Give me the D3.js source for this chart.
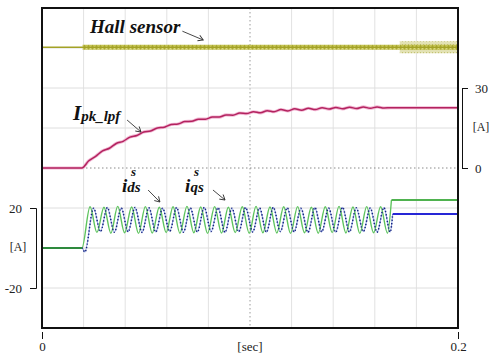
<!DOCTYPE html>
<html>
<head>
<meta charset="utf-8">
<script src="https://cdn.jsdelivr.net/npm/d3@7"></script>
<style>
  body { margin: 0; background: #fff; }
  svg { display: block; font-family: "Liberation Serif", "Times New Roman", serif; }
</style>
</head>
<body>
<svg id="chart" width="491" height="353"></svg>
<script>
// time is in ms, currents in A

// hall sensor: segment i runs hallT[i] -> hallT[i+1], band half width hallHalf[i]
const hallT = [0, 19.5, 172, 200];
const hallHalf = [0, 0.032, 0.075];
const hallLevel = 0.51;

// peak current after low pass filter
const ipkT = [0, 19.2, 22.5, 25.8, 29.1, 32.4, 35.7, 39.0, 42.3, 45.6, 48.9, 52.2, 55.5, 58.8, 62.1, 65.4,
  68.7, 72.0, 75.3, 78.6, 81.9, 85.2, 88.5, 91.8, 95.1, 98.4, 101.7, 105.0, 108.3, 111.6, 114.9, 118.2,
  121.5, 124.8, 128.1, 131.4, 134.7, 138.0, 141.3, 144.6, 147.9, 151.2, 154.5, 157.8, 161.1, 164.4, 167.7, 200];
const ipkA = [0, 0, 2.7, 4.4, 6.4, 7.4, 9.2, 10.0, 11.6, 12.2, 13.5, 13.9, 15.0, 15.3, 16.3, 16.5,
  17.4, 17.5, 18.3, 18.3, 19.1, 19.1, 19.9, 19.8, 20.6, 20.4, 21.1, 20.7, 21.5, 21.1, 21.9, 21.4,
  22.2, 21.7, 22.4, 21.9, 22.6, 22.1, 22.7, 22.2, 22.8, 22.3, 22.9, 22.4, 22.9, 22.5, 22.6, 22.6];

// i_ds (green): peaks and troughs
const idsT = [0, 19.2, 23.1, 26.4, 29.8, 33.1, 36.4, 39.7, 43.1, 46.4, 49.7, 53.0, 56.4, 59.7, 63.0, 66.3,
  69.7, 73.0, 76.3, 79.6, 83.0, 86.3, 89.6, 92.9, 96.3, 99.6, 102.9, 106.2, 109.6, 112.9, 116.2, 119.5,
  122.9, 126.2, 129.5, 132.8, 136.2, 139.5, 142.8, 146.1, 149.5, 152.8, 156.1, 159.4, 162.8, 166.1, 168.0, 200];
const idsA = [0, 0, 20.6, 7.8, 20.4, 7.4, 20.8, 7.6, 20.5, 7.3, 20.7, 7.5, 20.4, 7.7, 20.6, 7.4,
  20.8, 7.6, 20.5, 7.3, 20.7, 7.5, 20.4, 7.7, 20.6, 7.4, 20.8, 7.6, 20.5, 7.5, 20.6, 7.3,
  20.7, 7.6, 20.4, 7.4, 20.6, 7.7, 20.8, 7.5, 20.5, 7.3, 20.7, 7.6, 20.6, 7.4, 24.0, 24.0];

// i_qs (blue)
const iqsT = [0, 19.2, 20.6, 24.8, 28.1, 31.4, 34.8, 38.1, 41.4, 44.7, 48.1, 51.4, 54.7, 58.0, 61.4, 64.7,
  68.0, 71.3, 74.7, 78.0, 81.3, 84.6, 88.0, 91.3, 94.6, 97.9, 101.3, 104.6, 107.9, 111.2, 114.6, 117.9,
  121.2, 124.5, 127.9, 131.2, 134.5, 137.8, 141.2, 144.5, 147.8, 151.1, 154.5, 157.8, 161.1, 164.4, 167.4, 168.6, 200];
const iqsA = [0, 0, -2.0, 19.9, 8.2, 20.2, 7.9, 20.0, 8.1, 20.3, 7.8, 20.1, 8.0, 19.9, 8.3, 20.2,
  7.9, 20.0, 8.0, 20.3, 8.2, 20.1, 7.8, 19.9, 8.1, 20.2, 8.0, 20.0, 7.9, 20.3, 8.2, 20.1,
  8.0, 19.9, 7.8, 20.2, 8.1, 20.0, 7.9, 20.3, 8.0, 20.1, 8.2, 20.0, 7.9, 20.2, 8.0, 17.0, 17.0];

const xTicks = [0, 200];
const xTickLabels = ["0", "0.2"];
const pkTicks = [0, 30];
const dqTicks = [-20, 20];

const SERIF = "'Liberation Serif', 'Times New Roman', serif";
const zip = (t, v) => t.map((d, i) => [d, v[i]]);

const svg = d3.select("#chart");
const margin = {top: 8, left: 42}
const width = 416, height = 320;

const x = d3.scaleLinear().domain([0, 200]).range([margin.left, margin.left + width]);
const yTop = d3.scaleLinear().domain([0, 1]).range([88, 8]);
const yPk = d3.scaleLinear().domain([0, 30]).range([168, 88]);
const yDq = d3.scaleLinear().domain([-20, 20]).range([288, 208]);
const yRow = d3.scaleLinear().domain([0, 8]).range([margin.top + height, margin.top]);

const defs = svg.append("defs");
defs.append("clipPath").attr("id", "plotClip")
  .append("rect").attr("x", margin.left).attr("y", margin.top).attr("width", width).attr("height", height);

// noisy look of the hall trace
const pat1 = defs.append("pattern").attr("id", "hallNoise").attr("patternUnits", "userSpaceOnUse")
  .attr("width", 4).attr("height", 5);
pat1.append("rect").attr("width", 4).attr("height", 5).attr("fill", "#c4c350");
pat1.append("rect").attr("x", 0).attr("width", 1).attr("height", 5).attr("fill", "#a9a836");
pat1.append("rect").attr("x", 2).attr("y", 1).attr("width", 1).attr("height", 3).attr("fill", "#d9d884");
const pat2 = defs.append("pattern").attr("id", "hallWide").attr("patternUnits", "userSpaceOnUse")
  .attr("width", 3).attr("height", 4);
pat2.append("rect").attr("width", 3).attr("height", 4).attr("fill", "#e3e2b4");
pat2.append("rect").attr("x", 0).attr("width", 1).attr("height", 2).attr("fill", "#c3c274");

const arrow = defs.append("marker").attr("id", "arr").attr("markerUnits", "userSpaceOnUse")
  .attr("viewBox", "-6 -4 7 8").attr("refX", 0).attr("refY", 0)
  .attr("markerWidth", 7).attr("markerHeight", 8).attr("orient", "auto");
arrow.append("path").attr("d", "M-5,-3L0,0L-5,3").attr("fill", "none").attr("stroke", "#333").attr("stroke-width", 0.9);

// grid
const grid = svg.append("g");
x.ticks(10).filter(t => t > 0 && t < 200).forEach(t => {
  grid.append("line").attr("x1", x(t)).attr("x2", x(t)).attr("y1", margin.top).attr("y2", margin.top + height)
    .attr("stroke", t === 100 ? "#9a9a9a" : "#e2e2e2")
    .attr("stroke-width", 1)
    .attr("stroke-dasharray", t === 100 ? "1.5,2.5" : null);
});
yRow.ticks(8).filter(t => t > 0 && t < 8).forEach(t => {
  grid.append("line").attr("x1", margin.left).attr("x2", margin.left + width).attr("y1", yRow(t)).attr("y2", yRow(t))
    .attr("stroke", t === 4 ? "#8a8a8a" : "#dedede")
    .attr("stroke-width", 1)
    .attr("stroke-dasharray", t === 4 ? "1.5,2.5" : null);
});

const plot = svg.append("g").attr("clip-path", "url(#plotClip)");

// Hall sensor
const hallArea = d3.area().x(d => x(d[0])).y0(d => yTop(hallLevel - d[1])).y1(d => yTop(hallLevel + d[1]));
for (let i = 0; i < hallHalf.length; i++) {
  if (hallHalf[i] === 0) continue;
  plot.append("path").datum([[hallT[i], hallHalf[i]], [hallT[i + 1], hallHalf[i]]])
    .attr("fill", i === 1 ? "url(#hallNoise)" : "url(#hallWide)")
    .attr("d", hallArea);
}
plot.append("path").datum([[hallT[2], hallHalf[1]], [hallT[3], hallHalf[1]]])
  .attr("fill", "url(#hallNoise)").attr("d", hallArea);
plot.append("path").datum(hallT)
  .attr("fill", "none").attr("stroke", "#a3a226").attr("stroke-width", 1.6)
  .attr("d", d3.line().x(d => x(d)).y(() => yTop(hallLevel)));

// I_pk_lpf
const ipkLine = d3.line().x(d => x(d[0])).y(d => yPk(d[1])).curve(d3.curveMonotoneX);
plot.append("path").datum(zip(ipkT, ipkA))
  .attr("fill", "none").attr("stroke", "#f2b8d4").attr("stroke-width", 3.2).attr("d", ipkLine);
plot.append("path").datum(zip(ipkT, ipkA))
  .attr("fill", "none").attr("stroke", "#b3235f").attr("stroke-width", 1.5).attr("d", ipkLine);

// i_ds, i_qs
const dqLine = d3.line().x(d => x(d[0])).y(d => yDq(d[1])).curve(d3.curveMonotoneX);
const ids = zip(idsT, idsA), iqs = zip(iqsT, iqsA);
plot.append("path").datum(iqs.filter(d => d[0] <= 168.6))
  .attr("fill", "none").attr("stroke", "#93a6e6").attr("stroke-width", 1.1).attr("d", dqLine);
plot.append("path").datum(ids.filter(d => d[0] <= 168.0))
  .attr("fill", "none").attr("stroke", "#5ec45e").attr("stroke-width", 1.4).attr("d", dqLine);
plot.append("path").datum(iqs.filter(d => d[0] <= 168.6))
  .attr("fill", "none").attr("stroke", "#16247e").attr("stroke-width", 1.5)
  .attr("stroke-dasharray", "1.3,2").attr("d", dqLine);
plot.append("path").datum(ids.filter(d => d[0] >= 168.0))
  .attr("fill", "none").attr("stroke", "#4fb24f").attr("stroke-width", 2).attr("d", dqLine);
plot.append("path").datum(iqs.filter(d => d[0] >= 168.6))
  .attr("fill", "none").attr("stroke", "#2626d6").attr("stroke-width", 1.8).attr("d", dqLine);
// flat green before start
plot.append("path").datum(ids.filter(d => d[0] <= 19.2))
  .attr("fill", "none").attr("stroke", "#2e8a3e").attr("stroke-width", 1.8).attr("d", dqLine);

// frame
svg.append("rect").attr("x", margin.left).attr("y", margin.top).attr("width", width).attr("height", height)
  .attr("fill", "none").attr("stroke", "#111").attr("stroke-width", 2);

// axes
const styleAxis = g => {
  g.attr("font-family", null);
  g.selectAll("text").attr("font-size", 13).attr("fill", "#222").style("font-family", SERIF);
  g.selectAll("line,path").attr("stroke", "#111");
};
svg.append("g").attr("transform", "translate(0,332)")
  .call(d3.axisBottom(x).tickValues(xTicks).tickFormat((d, i) => xTickLabels[i]).tickSize(7))
  .call(g => g.select(".domain").remove())
  .call(styleAxis);
svg.append("g").attr("transform", "translate(462,0)")
  .call(d3.axisRight(yPk).tickValues(pkTicks).tickFormat(d => String(d)).tickSize(6).tickPadding(7))
  .call(styleAxis);
svg.append("g").attr("transform", "translate(36,0)")
  .call(d3.axisLeft(yDq).tickValues(dqTicks).tickFormat(d => String(d)).tickSize(6).tickPadding(8))
  .call(styleAxis);

const unit = (tx, ty, s) => svg.append("text").attr("x", tx).attr("y", ty).attr("text-anchor", "middle")
  .attr("dominant-baseline", "middle").attr("font-size", 12).attr("fill", "#222")
  .style("font-family", SERIF).text(s);
unit(481, yPk(15), "[A]");
unit(18, yDq(0), "[A]");
svg.append("text").attr("x", x(100)).attr("y", 351).attr("text-anchor", "middle")
  .attr("font-size", 13).attr("fill", "#222").style("font-family", SERIF).text("[sec]");

// labels
const lab = svg.append("g").attr("font-weight", "bold").attr("font-style", "italic").attr("fill", "#111")
  .style("font-family", SERIF);
lab.append("text").attr("x", x(23.1)).attr("y", yTop(0.69)).attr("font-size", 19).text("Hall sensor");
const pk = lab.append("text").attr("x", x(14.9)).attr("y", yPk(18));
pk.append("tspan").attr("font-size", 21).text("I");
pk.append("tspan").attr("font-size", 15).attr("dy", 1).text("pk_lpf");

// i^s with subscript; superscript kept just clear of the main text
const curLabel = (t, sub) => {
  const px = x(t), py = yDq(28);
  const g = lab.append("text").attr("x", px).attr("y", py);
  g.append("tspan").attr("font-size", 19).text("i");
  g.append("tspan").attr("font-size", 15).text(sub);
  lab.append("text").attr("x", px + 9).attr("y", py - 16).attr("font-size", 13).text("s");
};
curLabel(38.5, "ds");
curLabel(68.8, "qs");

const arrows = [
  [x(67.5), yTop(0.71), x(77.5), yTop(0.60)],
  [x(40.9), yPk(18), x(47.6), yPk(13.5)],
  [x(51.0), yDq(29), x(56.7), yDq(23)],
  [x(82.2), yDq(29), x(88.0), yDq(24)]
];
arrows.forEach(a => {
  svg.append("line").attr("x1", a[0]).attr("y1", a[1]).attr("x2", a[2]).attr("y2", a[3])
    .attr("stroke", "#333").attr("stroke-width", 0.9).attr("marker-end", "url(#arr)");
});
</script>
</body>
</html>
